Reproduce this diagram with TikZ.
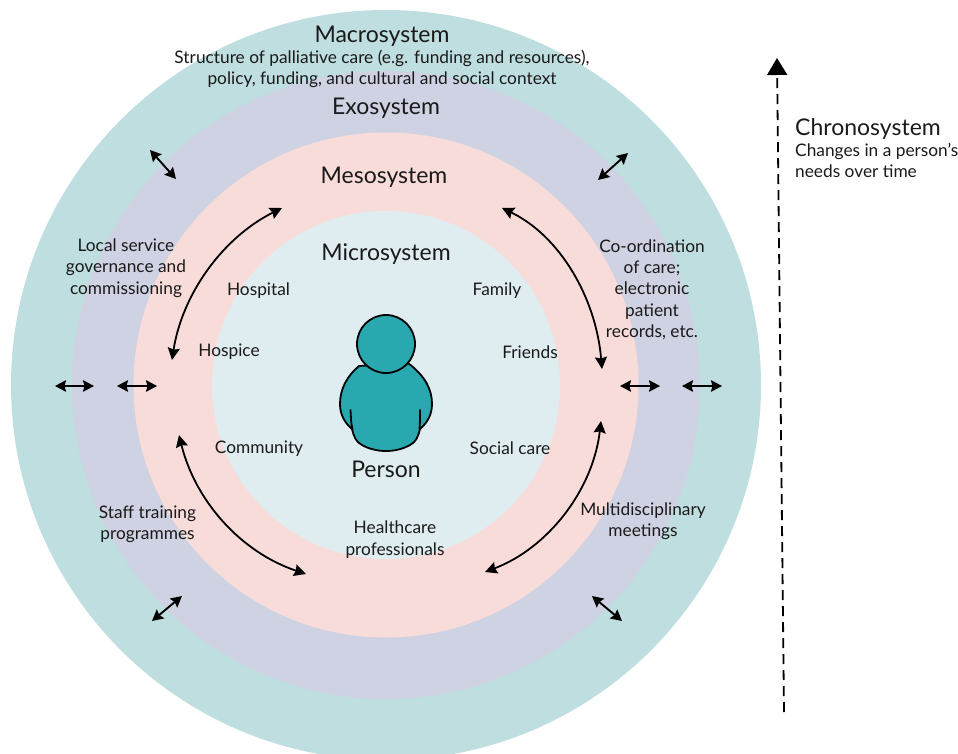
\documentclass[tikz,border=0pt]{standalone}
\usepackage{fontspec}
\setmainfont{Lato}
\usetikzlibrary{arrows.meta}
\definecolor{macroC}{HTML}{BFDEE0}
\definecolor{exoC}{HTML}{CFD2E2}
\definecolor{mesoC}{HTML}{F8DCDA}
\definecolor{microC}{HTML}{DFEDF1}
\definecolor{personC}{HTML}{29A8B0}
\definecolor{inkC}{HTML}{1A1A1A}
\tikzset{
  x=1pt,y=-1pt,
  ring/.style={circle,inner sep=0pt,minimum size=#1,draw=none},
  headtext/.style={font=\fontsize{23}{25}\selectfont,text=inkC,inner sep=0pt,align=center},
  bodytext/.style={font=\fontsize{17.3}{21.3}\selectfont,text=inkC,inner sep=0pt,align=center},
  tw/.style={<->,>={Stealth[length=11pt,width=11.5pt,inset=1.5pt]},line width=1.9pt,black},
  cyc/.style={<->,>={Stealth[length=12pt,width=12pt,inset=1.5pt]},line width=1.8pt,black},
  figline/.style={draw=black,line width=1.8pt,line join=round,line cap=round},
  chronoarrow/.style={-{Triangle[length=17pt,width=20pt]},line width=1.8pt,black,dash pattern=on 10pt off 6pt},
}
\begin{document}
\begin{tikzpicture}
\useasboundingbox (0,0) rectangle (958,754);
\node[ring=750pt,fill=macroC] (macro) at (386,385) {};
\node[ring=628pt,fill=exoC] (exo) at (386,385) {};
\node[ring=505pt,fill=mesoC] (meso) at (386,385) {};
\node[ring=348pt,fill=microC] (micro) at (386,385) {};

% person
\path[figline,fill=personC] (359,366)
  .. controls (347,376) and (340,389) .. (340,404)
  .. controls (340,415) and (345,423) .. (352,429)
  .. controls (354,437) and (356,442) .. (362,445)
  .. controls (376,453) and (396,453) .. (410,445)
  .. controls (416,442) and (418,437) .. (420,429)
  .. controls (427,423) and (432,415) .. (432,404)
  .. controls (432,389) and (425,376) .. (408,363) -- cycle;
\node[circle,inner sep=0pt,minimum size=58pt,figline,fill=personC] (head) at (386,344) {};
\draw[figline] (350.5,410) .. controls (351,418) and (351,424) .. (352.5,429);
\draw[figline] (420,410) .. controls (420,418) and (420,424) .. (419.5,429);

% texts
\node[headtext] (tmacro) at (382,36.5) {Macrosystem};
\node[bodytext] (tmacrosub) at (382,69) {Structure of palliative care (e.g. funding and resources),\\policy, funding, and cultural and social context};
\node[headtext] (texo) at (386,108.5) {Exosystem};
\node[headtext] (tmeso) at (384,177.5) {Mesosystem};
\node[headtext] (tmicro) at (386,254.5) {Microsystem};
\node[headtext] (tperson) at (386,469) {Person};
\node[bodytext] (hospital) at (258.5,290.5) {Hospital};
\node[bodytext] (hospice) at (229,352) {Hospice};
\node[bodytext] (community) at (259,448.5) {Community};
\node[bodytext] (family) at (497,290.5) {Family};
\node[bodytext] (friends) at (530,352) {Friends};
\node[bodytext] (social) at (510,448) {Social care};
\node[bodytext] (health) at (395,539.5) {Healthcare\\professionals};
\node[bodytext] (local) at (126,268) {Local service\\governance and\\commissioning};
\node[bodytext] (coord) at (652,289.5) {Co-ordination\\of care;\\electronic\\patient\\records, etc.};
\node[bodytext] (staff) at (147.5,524.5) {Staff training\\programmes};
\node[bodytext] (multi) at (643,521.5) {Multidisciplinary\\meetings};
\node[headtext,anchor=west] (chrono) at (795,129.5) {Chronosystem};
\node[bodytext,anchor=west,align=left] (chronosub) at (795,160.5) {Changes in a person’s\\needs over time};

% cycle arcs
\coordinate (a1) at (172,360); \coordinate (a2) at (282,208);
\coordinate (b1) at (502,208); \coordinate (b2) at (602,369);
\coordinate (c1) at (601,421); \coordinate (c2) at (485,572);
\coordinate (d1) at (179,435); \coordinate (d2) at (306,574);
\draw[cyc] (a1) .. controls (182,295) and (222,238) .. (a2);
\draw[cyc] (b1) .. controls (560,236) and (596,298) .. (b2);
\draw[cyc] (c1) .. controls (593,490) and (548,548) .. (c2);
\draw[cyc] (d1) .. controls (195,500) and (240,552) .. (d2);

% two-way arrows
\foreach \n/\xa/\ya/\xb/\yb in {
  h1/55/386/94/386, h2/117/386/157/386, h3/620/386/660/386, h4/682/386/722/386,
  tl/150/150/176/179, tr/598/180/628/153, bl/152/621/182/596, br/592/596/622/621}{
  \coordinate (\n a) at (\xa,\ya);
  \coordinate (\n b) at (\xb,\yb);
  \draw[tw] (\n a) -- (\n b);
}

% chrono arrow
\coordinate (cbottom) at (784,712);
\coordinate (ctop) at (777,58);
\draw[chronoarrow] (cbottom) -- (ctop);
\end{tikzpicture}
\end{document}
